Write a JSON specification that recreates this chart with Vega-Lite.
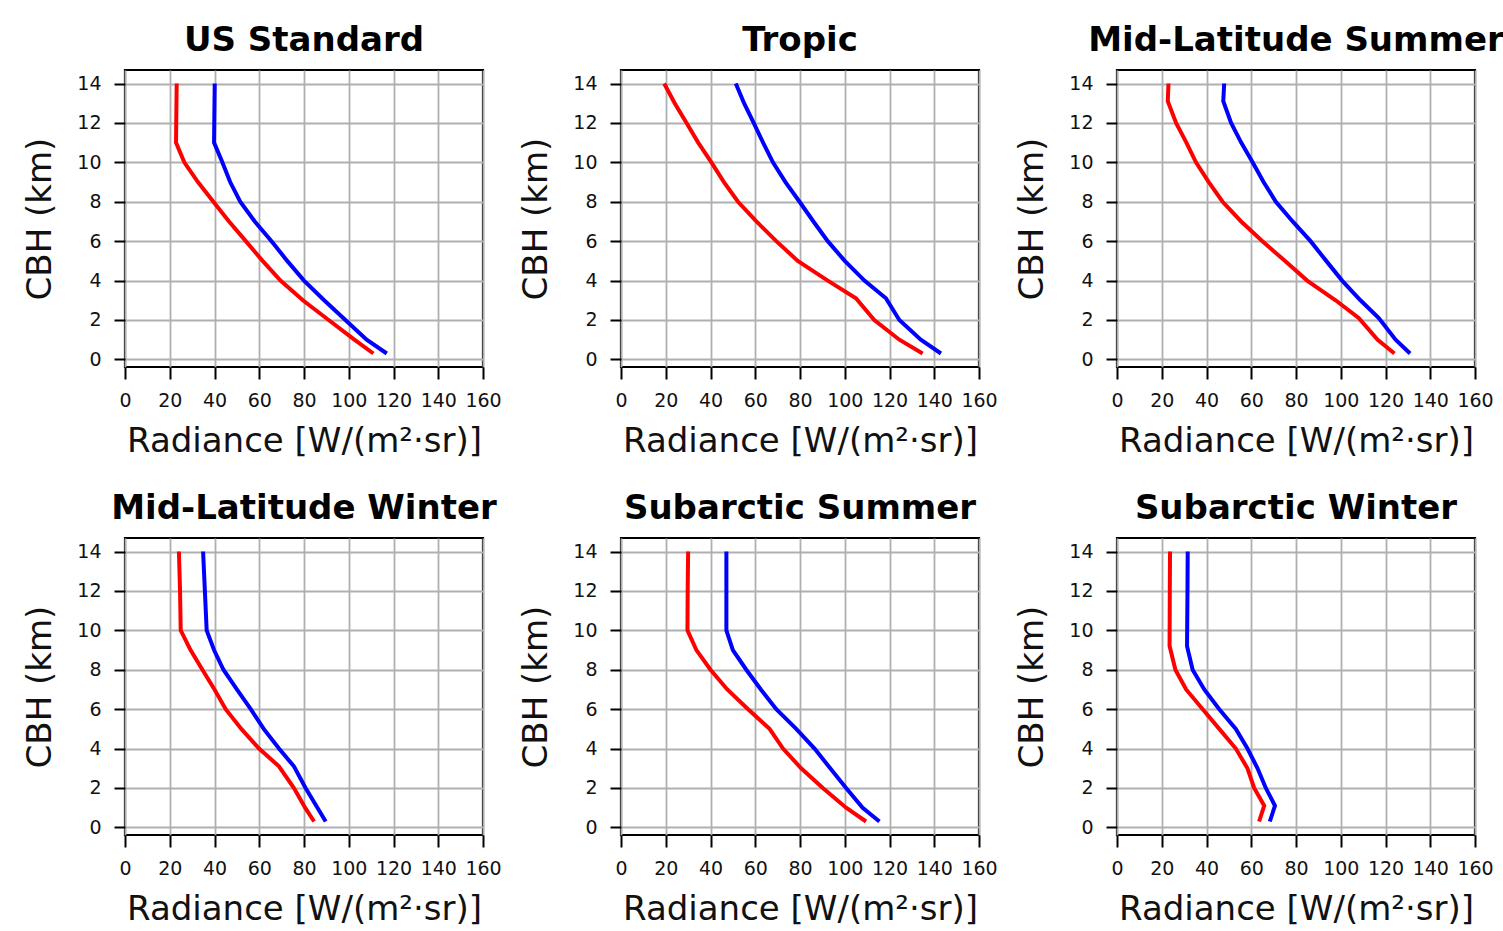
{
  "$schema": "https://vega.github.io/schema/vega-lite/v6.json",
  "background": "white",
  "padding": {"left": 22, "top": 22, "right": 0, "bottom": 0},
  "bounds": "flush",
  "spacing": 468,
  "datasets": {
    "profiles": [
      {"p":"US Standard","s":"A","h":14,"r":23.1},{"p":"US Standard","s":"A","h":13,"r":23.0},{"p":"US Standard","s":"A","h":12,"r":22.9},{"p":"US Standard","s":"A","h":11,"r":22.8},{"p":"US Standard","s":"A","h":10,"r":26.5},{"p":"US Standard","s":"A","h":9,"r":32.6},{"p":"US Standard","s":"A","h":8,"r":39.5},{"p":"US Standard","s":"A","h":7,"r":46.5},{"p":"US Standard","s":"A","h":6,"r":54},{"p":"US Standard","s":"A","h":5,"r":61.5},{"p":"US Standard","s":"A","h":4,"r":69.5},{"p":"US Standard","s":"A","h":3,"r":79.5},{"p":"US Standard","s":"A","h":2,"r":91},{"p":"US Standard","s":"A","h":1,"r":102.5},{"p":"US Standard","s":"A","h":0.3,"r":111},
      {"p":"US Standard","s":"B","h":14,"r":40.1},{"p":"US Standard","s":"B","h":13,"r":40},{"p":"US Standard","s":"B","h":12,"r":39.9},{"p":"US Standard","s":"B","h":11,"r":39.8},{"p":"US Standard","s":"B","h":10,"r":43.5},{"p":"US Standard","s":"B","h":9,"r":47},{"p":"US Standard","s":"B","h":8,"r":51.5},{"p":"US Standard","s":"B","h":7,"r":58},{"p":"US Standard","s":"B","h":6,"r":65.5},{"p":"US Standard","s":"B","h":5,"r":72.5},{"p":"US Standard","s":"B","h":4,"r":80},{"p":"US Standard","s":"B","h":3,"r":89},{"p":"US Standard","s":"B","h":2,"r":98.5},{"p":"US Standard","s":"B","h":1,"r":108},{"p":"US Standard","s":"B","h":0.3,"r":117},
      {"p":"Tropic","s":"A","h":14,"r":19.3},{"p":"Tropic","s":"A","h":13,"r":24},{"p":"Tropic","s":"A","h":12,"r":29.3},{"p":"Tropic","s":"A","h":11,"r":34.5},{"p":"Tropic","s":"A","h":10,"r":40.4},{"p":"Tropic","s":"A","h":9,"r":46},{"p":"Tropic","s":"A","h":8,"r":52.3},{"p":"Tropic","s":"A","h":7,"r":60.5},{"p":"Tropic","s":"A","h":6,"r":69.4},{"p":"Tropic","s":"A","h":5,"r":79},{"p":"Tropic","s":"A","h":4,"r":92.4},{"p":"Tropic","s":"A","h":3.1,"r":105},{"p":"Tropic","s":"A","h":2,"r":113.2},{"p":"Tropic","s":"A","h":1,"r":124.4},{"p":"Tropic","s":"A","h":0.3,"r":134.8},
      {"p":"Tropic","s":"B","h":14,"r":51.3},{"p":"Tropic","s":"B","h":13,"r":55},{"p":"Tropic","s":"B","h":12,"r":59.3},{"p":"Tropic","s":"B","h":11,"r":63.5},{"p":"Tropic","s":"B","h":10,"r":67.9},{"p":"Tropic","s":"B","h":9,"r":73.5},{"p":"Tropic","s":"B","h":8,"r":79.8},{"p":"Tropic","s":"B","h":7,"r":86},{"p":"Tropic","s":"B","h":6,"r":92.4},{"p":"Tropic","s":"B","h":5,"r":100},{"p":"Tropic","s":"B","h":4,"r":108.8},{"p":"Tropic","s":"B","h":3.1,"r":118.4},{"p":"Tropic","s":"B","h":2,"r":124.4},{"p":"Tropic","s":"B","h":1,"r":134},{"p":"Tropic","s":"B","h":0.3,"r":143},
      {"p":"Mid-Latitude Summer","s":"A","h":14,"r":23},{"p":"Mid-Latitude Summer","s":"A","h":13.1,"r":22.7},{"p":"Mid-Latitude Summer","s":"A","h":12,"r":26.4},{"p":"Mid-Latitude Summer","s":"A","h":11,"r":31},{"p":"Mid-Latitude Summer","s":"A","h":10,"r":35.3},{"p":"Mid-Latitude Summer","s":"A","h":9,"r":41},{"p":"Mid-Latitude Summer","s":"A","h":8,"r":47.2},{"p":"Mid-Latitude Summer","s":"A","h":7,"r":55.5},{"p":"Mid-Latitude Summer","s":"A","h":6,"r":65},{"p":"Mid-Latitude Summer","s":"A","h":5,"r":75},{"p":"Mid-Latitude Summer","s":"A","h":4,"r":85},{"p":"Mid-Latitude Summer","s":"A","h":3,"r":97.7},{"p":"Mid-Latitude Summer","s":"A","h":2.1,"r":108},{"p":"Mid-Latitude Summer","s":"A","h":1,"r":116.5},{"p":"Mid-Latitude Summer","s":"A","h":0.3,"r":124},
      {"p":"Mid-Latitude Summer","s":"B","h":14,"r":47.9},{"p":"Mid-Latitude Summer","s":"B","h":13.1,"r":47.5},{"p":"Mid-Latitude Summer","s":"B","h":12,"r":51},{"p":"Mid-Latitude Summer","s":"B","h":11,"r":55.5},{"p":"Mid-Latitude Summer","s":"B","h":10,"r":60.6},{"p":"Mid-Latitude Summer","s":"B","h":9,"r":65.5},{"p":"Mid-Latitude Summer","s":"B","h":8,"r":71},{"p":"Mid-Latitude Summer","s":"B","h":7,"r":78.5},{"p":"Mid-Latitude Summer","s":"B","h":6,"r":86.5},{"p":"Mid-Latitude Summer","s":"B","h":5,"r":93.5},{"p":"Mid-Latitude Summer","s":"B","h":4,"r":100.6},{"p":"Mid-Latitude Summer","s":"B","h":3,"r":108.8},{"p":"Mid-Latitude Summer","s":"B","h":2.1,"r":117},{"p":"Mid-Latitude Summer","s":"B","h":1,"r":124.5},{"p":"Mid-Latitude Summer","s":"B","h":0.3,"r":131},
      {"p":"Mid-Latitude Winter","s":"A","h":14,"r":24.1},{"p":"Mid-Latitude Winter","s":"A","h":12,"r":24.6},{"p":"Mid-Latitude Winter","s":"A","h":10,"r":24.9},{"p":"Mid-Latitude Winter","s":"A","h":9,"r":29.3},{"p":"Mid-Latitude Winter","s":"A","h":8,"r":34.6},{"p":"Mid-Latitude Winter","s":"A","h":7,"r":40},{"p":"Mid-Latitude Winter","s":"A","h":6,"r":45},{"p":"Mid-Latitude Winter","s":"A","h":5,"r":52},{"p":"Mid-Latitude Winter","s":"A","h":4,"r":59.9},{"p":"Mid-Latitude Winter","s":"A","h":3.1,"r":68.8},{"p":"Mid-Latitude Winter","s":"A","h":2,"r":75.5},{"p":"Mid-Latitude Winter","s":"A","h":1,"r":80.5},{"p":"Mid-Latitude Winter","s":"A","h":0.3,"r":84.5},
      {"p":"Mid-Latitude Winter","s":"B","h":14,"r":34.9},{"p":"Mid-Latitude Winter","s":"B","h":12,"r":35.7},{"p":"Mid-Latitude Winter","s":"B","h":10,"r":36.5},{"p":"Mid-Latitude Winter","s":"B","h":9,"r":39.8},{"p":"Mid-Latitude Winter","s":"B","h":8,"r":44},{"p":"Mid-Latitude Winter","s":"B","h":7,"r":50},{"p":"Mid-Latitude Winter","s":"B","h":6,"r":56.2},{"p":"Mid-Latitude Winter","s":"B","h":5,"r":62},{"p":"Mid-Latitude Winter","s":"B","h":4,"r":68.8},{"p":"Mid-Latitude Winter","s":"B","h":3.1,"r":75.5},{"p":"Mid-Latitude Winter","s":"B","h":2,"r":80.7},{"p":"Mid-Latitude Winter","s":"B","h":1,"r":86},{"p":"Mid-Latitude Winter","s":"B","h":0.3,"r":89.7},
      {"p":"Subarctic Summer","s":"A","h":14,"r":30},{"p":"Subarctic Summer","s":"A","h":12,"r":29.8},{"p":"Subarctic Summer","s":"A","h":10,"r":29.7},{"p":"Subarctic Summer","s":"A","h":9,"r":33.7},{"p":"Subarctic Summer","s":"A","h":8,"r":40},{"p":"Subarctic Summer","s":"A","h":7,"r":47.5},{"p":"Subarctic Summer","s":"A","h":6,"r":56.8},{"p":"Subarctic Summer","s":"A","h":5,"r":66.4},{"p":"Subarctic Summer","s":"A","h":4,"r":72.4},{"p":"Subarctic Summer","s":"A","h":3,"r":80.5},{"p":"Subarctic Summer","s":"A","h":2,"r":90.2},{"p":"Subarctic Summer","s":"A","h":1,"r":100.6},{"p":"Subarctic Summer","s":"A","h":0.3,"r":109.5},
      {"p":"Subarctic Summer","s":"B","h":14,"r":47.1},{"p":"Subarctic Summer","s":"B","h":12,"r":47.1},{"p":"Subarctic Summer","s":"B","h":10,"r":47.1},{"p":"Subarctic Summer","s":"B","h":9,"r":50},{"p":"Subarctic Summer","s":"B","h":8,"r":56},{"p":"Subarctic Summer","s":"B","h":7,"r":62.5},{"p":"Subarctic Summer","s":"B","h":6,"r":69.4},{"p":"Subarctic Summer","s":"B","h":5,"r":78.3},{"p":"Subarctic Summer","s":"B","h":4,"r":86.5},{"p":"Subarctic Summer","s":"B","h":3,"r":93.5},{"p":"Subarctic Summer","s":"B","h":2,"r":100.6},{"p":"Subarctic Summer","s":"B","h":1,"r":108},{"p":"Subarctic Summer","s":"B","h":0.3,"r":115.5},
      {"p":"Subarctic Winter","s":"A","h":14,"r":23.7},{"p":"Subarctic Winter","s":"A","h":12,"r":23.6},{"p":"Subarctic Winter","s":"A","h":9.2,"r":23.5},{"p":"Subarctic Winter","s":"A","h":8,"r":26.1},{"p":"Subarctic Winter","s":"A","h":7,"r":30.9},{"p":"Subarctic Winter","s":"A","h":6,"r":38.3},{"p":"Subarctic Winter","s":"A","h":5,"r":45.7},{"p":"Subarctic Winter","s":"A","h":4,"r":53.1},{"p":"Subarctic Winter","s":"A","h":3,"r":58.3},{"p":"Subarctic Winter","s":"A","h":2,"r":61.3},{"p":"Subarctic Winter","s":"A","h":1.1,"r":65.8},{"p":"Subarctic Winter","s":"A","h":0.3,"r":63.5},
      {"p":"Subarctic Winter","s":"B","h":14,"r":31.6},{"p":"Subarctic Winter","s":"B","h":12,"r":31.5},{"p":"Subarctic Winter","s":"B","h":9.2,"r":31.3},{"p":"Subarctic Winter","s":"B","h":8,"r":33.8},{"p":"Subarctic Winter","s":"B","h":7,"r":39},{"p":"Subarctic Winter","s":"B","h":6,"r":45.7},{"p":"Subarctic Winter","s":"B","h":5,"r":53.1},{"p":"Subarctic Winter","s":"B","h":4,"r":58.3},{"p":"Subarctic Winter","s":"B","h":3,"r":62.8},{"p":"Subarctic Winter","s":"B","h":2,"r":66.5},{"p":"Subarctic Winter","s":"B","h":1.1,"r":70.6},{"p":"Subarctic Winter","s":"B","h":0.3,"r":68.3}
    ]
  },
  "vconcat": [
    {
      "bounds": "flush",
      "spacing": 138,
      "hconcat": [
        {"title": "US Standard", "data": {"name": "profiles"}, "transform": [{"filter": "datum.p === 'US Standard'"}], "width": 358, "height": 297, "mark": "line",
         "encoding": {"x": {"field": "r", "type": "quantitative", "scale": {"domain": [0, 160], "nice": false, "zero": false}, "axis": {"title": "Radiance [W/(m²·sr)]"}},
                      "y": {"field": "h", "type": "quantitative", "scale": {"domain": [-0.385, 14.685], "nice": false, "zero": false}, "axis": {"title": "CBH (km)"}},
                      "color": {"field": "s", "type": "nominal", "scale": {"domain": ["A", "B"], "range": ["#ff0000", "#0000ff"]}, "legend": null},
                      "order": {"field": "h", "type": "quantitative"}}},
        {"title": "Tropic", "data": {"name": "profiles"}, "transform": [{"filter": "datum.p === 'Tropic'"}], "width": 358, "height": 297, "mark": "line",
         "encoding": {"x": {"field": "r", "type": "quantitative", "scale": {"domain": [0, 160], "nice": false, "zero": false}, "axis": {"title": "Radiance [W/(m²·sr)]"}},
                      "y": {"field": "h", "type": "quantitative", "scale": {"domain": [-0.385, 14.685], "nice": false, "zero": false}, "axis": {"title": "CBH (km)"}},
                      "color": {"field": "s", "type": "nominal", "scale": {"domain": ["A", "B"], "range": ["#ff0000", "#0000ff"]}, "legend": null},
                      "order": {"field": "h", "type": "quantitative"}}},
        {"title": "Mid-Latitude Summer", "data": {"name": "profiles"}, "transform": [{"filter": "datum.p === 'Mid-Latitude Summer'"}], "width": 358, "height": 297, "mark": "line",
         "encoding": {"x": {"field": "r", "type": "quantitative", "scale": {"domain": [0, 160], "nice": false, "zero": false}, "axis": {"title": "Radiance [W/(m²·sr)]"}},
                      "y": {"field": "h", "type": "quantitative", "scale": {"domain": [-0.385, 14.685], "nice": false, "zero": false}, "axis": {"title": "CBH (km)"}},
                      "color": {"field": "s", "type": "nominal", "scale": {"domain": ["A", "B"], "range": ["#ff0000", "#0000ff"]}, "legend": null},
                      "order": {"field": "h", "type": "quantitative"}}}
      ]
    },
    {
      "bounds": "flush",
      "spacing": 138,
      "hconcat": [
        {"title": "Mid-Latitude Winter", "data": {"name": "profiles"}, "transform": [{"filter": "datum.p === 'Mid-Latitude Winter'"}], "width": 358, "height": 297, "mark": "line",
         "encoding": {"x": {"field": "r", "type": "quantitative", "scale": {"domain": [0, 160], "nice": false, "zero": false}, "axis": {"title": "Radiance [W/(m²·sr)]"}},
                      "y": {"field": "h", "type": "quantitative", "scale": {"domain": [-0.385, 14.685], "nice": false, "zero": false}, "axis": {"title": "CBH (km)"}},
                      "color": {"field": "s", "type": "nominal", "scale": {"domain": ["A", "B"], "range": ["#ff0000", "#0000ff"]}, "legend": null},
                      "order": {"field": "h", "type": "quantitative"}}},
        {"title": "Subarctic Summer", "data": {"name": "profiles"}, "transform": [{"filter": "datum.p === 'Subarctic Summer'"}], "width": 358, "height": 297, "mark": "line",
         "encoding": {"x": {"field": "r", "type": "quantitative", "scale": {"domain": [0, 160], "nice": false, "zero": false}, "axis": {"title": "Radiance [W/(m²·sr)]"}},
                      "y": {"field": "h", "type": "quantitative", "scale": {"domain": [-0.385, 14.685], "nice": false, "zero": false}, "axis": {"title": "CBH (km)"}},
                      "color": {"field": "s", "type": "nominal", "scale": {"domain": ["A", "B"], "range": ["#ff0000", "#0000ff"]}, "legend": null},
                      "order": {"field": "h", "type": "quantitative"}}},
        {"title": "Subarctic Winter", "data": {"name": "profiles"}, "transform": [{"filter": "datum.p === 'Subarctic Winter'"}], "width": 358, "height": 297, "mark": "line",
         "encoding": {"x": {"field": "r", "type": "quantitative", "scale": {"domain": [0, 160], "nice": false, "zero": false}, "axis": {"title": "Radiance [W/(m²·sr)]"}},
                      "y": {"field": "h", "type": "quantitative", "scale": {"domain": [-0.385, 14.685], "nice": false, "zero": false}, "axis": {"title": "CBH (km)"}},
                      "color": {"field": "s", "type": "nominal", "scale": {"domain": ["A", "B"], "range": ["#ff0000", "#0000ff"]}, "legend": null},
                      "order": {"field": "h", "type": "quantitative"}}}
      ]
    }
  ],
  "config": {
    "font": "DejaVu Sans",
    "view": {"stroke": "black", "strokeWidth": 2.2},
    "line": {"strokeWidth": 4, "clip": true},
    "title": {"font": "DejaVu Sans", "fontSize": 34, "fontWeight": "bold", "color": "black", "anchor": "middle", "frame": "group", "baseline": "alphabetic", "offset": 12},
    "axis": {
      "domain": false,
      "grid": true,
      "gridColor": "#b0b0b0",
      "gridWidth": 1.8,
      "gridOpacity": 1,
      "ticks": true,
      "tickColor": "black",
      "tickWidth": 2,
      "labelFont": "DejaVu Sans",
      "labelFontSize": 19,
      "labelColor": "#111111",
      "titleFont": "DejaVu Sans",
      "titleFontSize": 34,
      "titleFontWeight": "normal",
      "titleColor": "#111111",
      "labelFlush": false,
      "labelOverlap": false
    },
    "axisX": {"values": [0, 20, 40, 60, 80, 100, 120, 140, 160], "tickSize": 12, "labelPadding": 12, "titlePadding": 14},
    "axisY": {"values": [0, 2, 4, 6, 8, 10, 12, 14], "tickSize": 11, "labelPadding": 13, "titlePadding": 19}
  }
}
